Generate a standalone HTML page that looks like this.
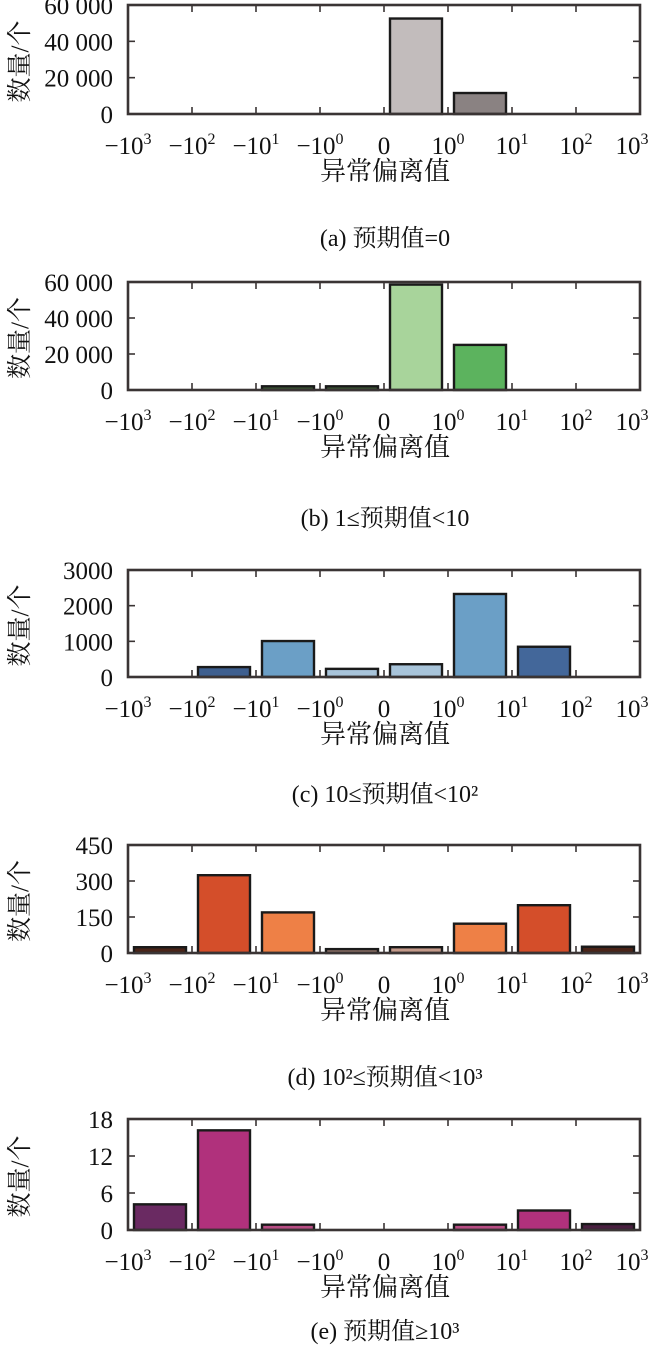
<!DOCTYPE html>
<html><head><meta charset="utf-8"><style>
html,body{margin:0;padding:0;background:#fff}
svg{display:block}
text{font-family:"Liberation Serif","Noto Serif CJK SC",serif;fill:#111}
.cjk{font-family:"Liberation Serif","Noto Serif CJK SC","Noto Sans CJK SC",serif}
</style></head><body>
<svg id="chart" width="650" height="1367" viewBox="0 0 650 1367" xmlns="http://www.w3.org/2000/svg"></svg>
<script>
// bins: (-1e3,-1e2),(-1e2,-1e1),(-1e1,-1e0),(-1e0,0),(0,1e0),(1e0,1e1),(1e1,1e2),(1e2,1e3)
const xTickLabels = [["−10","3"],["−10","2"],["−10","1"],["−10","0"],["0",""],["10","0"],["10","1"],["10","2"],["10","3"]];
const valuesA = [0,0,0,0,52000,11000,0,0];
const valuesB = [0,0,1500,1500,58000,24500,0,0];
const valuesC = [0,250,980,200,330,2300,820,0];
const valuesD = [20,320,165,12,20,118,195,22];
const valuesE = [4,16,0.7,0,0,0.7,3,0.8];
const yTicksA = [0,20000,40000,60000];
const yTickLabelsA = ["0","20 000","40 000","60 000"];
const yTicksB = [0,20000,40000,60000];
const yTickLabelsB = ["0","20 000","40 000","60 000"];
const yTicksC = [0,1000,2000,3000];
const yTickLabelsC = ["0","1000","2000","3000"];
const yTicksD = [0,150,300,450];
const yTickLabelsD = ["0","150","300","450"];
const yTicksE = [0,6,12,18];
const yTickLabelsE = ["0","6","12","18"];
const captions = ["(a) 预期值=0","(b) 1≤预期值<10","(c) 10≤预期值<10²","(d) 10²≤预期值<10³","(e) 预期值≥10³"];

const colorsA = ["#c2bcbc","#c2bcbc","#c2bcbc","#c2bcbc","#c2bcbc","#8a8282","#8a8282","#8a8282"];
const colorsB = ["#3d5a35","#3d5a35","#3d5a35","#3d5a35","#a8d49b","#5cb35e","#5cb35e","#5cb35e"];
const colorsC = ["#3e5f8f","#3e5f8f","#6b9fc6","#a8c4da","#a8c4da","#6b9fc6","#43679a","#3e5f8f"];
const colorsD = ["#4a2418","#d44e2a","#ee8046","#9a7a70","#c49a8a","#ee8046","#d44e2a","#4a2418"];
const colorsE = ["#6a2a62","#b0317c","#b84d84","#b84d84","#b84d84","#b84d84","#b0317c","#4a2040"];

const panels = [
 {id:"a", vals:valuesA, ticks:yTicksA, tl:yTickLabelsA, cols:colorsA, top:5, bot:114},
 {id:"b", vals:valuesB, ticks:yTicksB, tl:yTickLabelsB, cols:colorsB, top:282, bot:390},
 {id:"c", vals:valuesC, ticks:yTicksC, tl:yTickLabelsC, cols:colorsC, top:570, bot:677},
 {id:"d", vals:valuesD, ticks:yTicksD, tl:yTickLabelsD, cols:colorsD, top:845, bot:953},
 {id:"e", vals:valuesE, ticks:yTicksE, tl:yTickLabelsE, cols:colorsE, top:1119, bot:1230}
];
const captionY = [237, 517, 793, 1076, 1330];
const svg = document.getElementById('chart');
const NS = "http://www.w3.org/2000/svg";
const L = 128, R = 640, NB = 8;
function mk(tag, attrs, parent){ const e=document.createElementNS(NS,tag); for(const k in attrs) e.setAttribute(k,attrs[k]); (parent||svg).appendChild(e); return e; }
function xScale(i){ return L + (R-L)*i/NB; }

panels.forEach((p, pi) => {
  const g = mk('g',{});
  
  
  const ymax = p.ticks[p.ticks.length-1];
  const yScale = v => p.bot - (p.bot - p.top) * v / ymax;
  p.vals.forEach((v, i) => {
    if (v <= 0) return;
    const x0 = xScale(i) + 6, w = (R-L)/NB - 12;
    const y = yScale(v);
    const h = Math.max(p.bot - y, 0);
    const r = mk('rect',{x:x0, y:y-1, width:w, height:h+1, fill:p.cols[i], stroke:"#1a1a1a", "stroke-width":2.4}, g);
    
    
  });
  const fr = mk('rect',{x:L, y:p.top, width:R-L, height:p.bot-p.top, fill:"none", stroke:"#3a3434", "stroke-width":2.6}, g);
  
  
  for (let i=1;i<NB;i++){
    const x = xScale(i);
    mk('line',{x1:x,x2:x,y1:p.top,y2:p.top+7,stroke:"#3a3434","stroke-width":1.6}, g);
    mk('line',{x1:x,x2:x,y1:p.bot,y2:p.bot-7,stroke:"#3a3434","stroke-width":1.6}, g);
  }
  xTickLabels.forEach((lab, i) => {
    const x = xScale(i) + (i===NB ? -8 : 0);
    const t = mk('text',{x:x, y:p.bot+40, "font-size":25, "text-anchor":"middle", "textLength": lab[0].length>2 ? 48 : (lab[0].length===2?30:14), "lengthAdjust":"spacingAndGlyphs"}, g);
    t.removeAttribute('textLength');
    
    
    t.appendChild(document.createTextNode(lab[0]));
    if (lab[1]) { const s = mk('tspan',{"font-size":16, dy:-10}, t); s.textContent = lab[1]; }
  });
  p.ticks.forEach((v, i) => {
    const y = yScale(v);
    if (i>0 && i<p.ticks.length-1){
      mk('line',{x1:L,x2:L+7,y1:y,y2:y,stroke:"#3a3434","stroke-width":1.6}, g);
      mk('line',{x1:R,x2:R-7,y1:y,y2:y,stroke:"#3a3434","stroke-width":1.6}, g);
    }
    const t = mk('text',{x:113, y:y+9, "font-size":25, "text-anchor":"end"}, g);
    
    
    t.textContent = p.tl[i];
  });
  const cy = (p.top+p.bot)/2;
  const yt = mk('text',{x:0,y:0,"font-size":25,"text-anchor":"middle",class:"cjk",transform:`translate(28 ${cy+2}) rotate(-90)`}, g);
  
  
  yt.textContent = "数量/个";
  const xt = mk('text',{x:385,y:p.bot+66,"font-size":26,"text-anchor":"middle",class:"cjk"}, g);
  
  
  xt.textContent = "异常偏离值";
  const cp = mk('text',{x:385,y:captionY[pi]+9,"font-size":24,"text-anchor":"middle",class:"cjk"}, g);
  
  
  cp.textContent = captions[pi];
});
</script>
</body></html>
